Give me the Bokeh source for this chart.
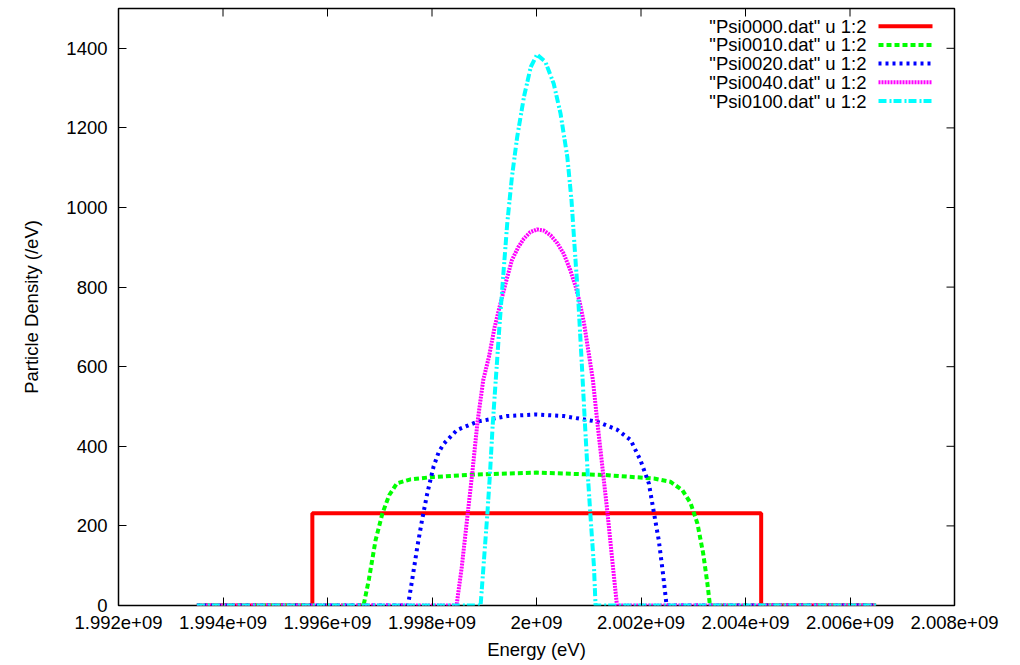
import numpy as np
from bokeh.plotting import figure
from bokeh.models import Range1d, FixedTicker, Label, Arrow
from bokeh.embed import file_html
from bokeh.resources import INLINE

# Energy is stored as the offset from the 2 GeV reference, in MeV
E0 = 2.0e9
MEV = 1.0e6

names = ['"Psi0000.dat" u 1:2', '"Psi0010.dat" u 1:2', '"Psi0020.dat" u 1:2',
         '"Psi0040.dat" u 1:2', '"Psi0100.dat" u 1:2']

psi0000_de = [-6.5, -4.29, -4.29, 4.30, 4.30, 6.5]
psi0000_rho = [0, 0, 232, 232, 0, 0]

psi0010_de = [-6.5, -3.31, -3.21, -3.08, -2.95, -2.82, -2.67, -2.41, -1.97, -1.20, 0.0,
              1.29, 2.25, 2.56, 2.79, 2.95, 3.08, 3.19, 3.27, 3.32, 6.5]
psi0010_rho = [0, 0, 64, 164, 231, 277, 307, 317, 323, 329, 334,
               328, 319, 311, 290, 257, 206, 131, 56, 0, 0]

psi0020_de = [-6.5, -2.46, -2.38, -2.28, -2.19, -2.09, -1.97, -1.87, -1.77, -1.52, -1.13,
              -0.56, 0.0, 0.52, 1.16, 1.54, 1.80, 1.99, 2.15, 2.25, 2.34, 2.42, 2.49, 6.5]
psi0020_rho = [0, 0, 64, 148, 215, 282, 349, 386, 407, 441, 462,
               476, 480, 476, 462, 442, 416, 365, 307, 231, 164, 81, 0, 0]

psi0040_de = [-6.5, -1.53, -1.43, -1.33, -1.23, -1.13, -1.02, -0.91, -0.80, -0.69, -0.58,
              -0.47, -0.35, -0.24, -0.12, 0.01, 0.14, 0.27, 0.40, 0.52, 0.64, 0.75,
              0.83, 0.91, 1.01, 1.08, 1.16, 1.26, 1.36, 1.45, 1.54, 6.5]
psi0040_rho = [0, 0, 97, 215, 332, 460, 566, 625, 700, 759, 815,
               868, 900, 922, 938, 945, 942, 930, 910, 884, 845, 801,
               760, 709, 625, 566, 466, 349, 231, 114, 0, 0]

psi0100_de = [-6.5, -1.07, -1.01, -0.94, -0.89, -0.84, -0.78, -0.71, -0.63, -0.56, -0.47,
              -0.37, -0.24, -0.11, 0.01, 0.17, 0.33, 0.46, 0.59, 0.67, 0.74, 0.80,
              0.87, 0.93, 0.98, 1.03, 1.10, 1.13, 6.5]
psi0100_rho = [0, 0, 106, 231, 332, 450, 566, 700, 840, 960, 1077,
               1177, 1278, 1353, 1384, 1366, 1311, 1236, 1127, 1018, 880, 767,
               600, 450, 332, 231, 97, 0, 0]

x_ticks = [1.992e9, 1.994e9, 1.996e9, 1.998e9, 2.0e9, 2.002e9, 2.004e9, 2.006e9, 2.008e9]
x_tick_labels = ["1.992e+09", "1.994e+09", "1.996e+09", "1.998e+09", "2e+09",
                 "2.002e+09", "2.004e+09", "2.006e+09", "2.008e+09"]
y_ticks = [0, 200, 400, 600, 800, 1000, 1200, 1400]

series_de = [psi0000_de, psi0010_de, psi0020_de, psi0040_de, psi0100_de]
series_rho = [psi0000_rho, psi0010_rho, psi0020_rho, psi0040_rho, psi0100_rho]
colors = ["#ff0000", "#00ff00", "#0000ff", "#ff00ff", "#00ffff"]
dashes = ["solid", "5 3", "3 4", "2 1", "8 3 2 2"]

X_MIN, X_MAX = 1.992e9, 2.008e9
Y_MIN, Y_MAX = 0, 1500

FONT = "Liberation Sans"
FS = "18.5px"
TICK_LEN = 8

p = figure(width=1020, height=665,
           x_range=Range1d(X_MIN, X_MAX), y_range=Range1d(Y_MIN, Y_MAX),
           output_backend="svg", toolbar_location=None,
           min_border_left=118, min_border_right=66,
           min_border_top=8, min_border_bottom=60)
p.background_fill_color = "white"
p.border_fill_color = "white"
p.grid.visible = False
p.outline_line_color = "black"
p.outline_line_width = 1.5
p.outline_line_alpha = 1.0

for de, rho, c, d in zip(series_de, series_rho, colors, dashes):
    energy = E0 + np.array(de) * MEV
    p.line(energy, rho, line_color=c, line_width=4, line_dash=d)

xax = p.below[0]
yax = p.left[0]
xax.ticker = FixedTicker(ticks=x_ticks)
xax.major_label_overrides = dict(zip(x_ticks, x_tick_labels))
yax.ticker = FixedTicker(ticks=y_ticks)
xax.axis_label = "Energy (eV)"
yax.axis_label = "Particle Density (/eV)"
for ax in (xax, yax):
    ax.axis_line_color = None
    ax.major_tick_in = TICK_LEN
    ax.major_tick_out = 0
    ax.major_tick_line_color = "black"
    ax.major_tick_line_width = 1
    ax.minor_tick_line_color = None
    ax.major_label_text_font = FONT
    ax.major_label_text_font_size = FS
    ax.major_label_text_color = "black"
    ax.axis_label_text_font = FONT
    ax.axis_label_text_font_size = FS
    ax.axis_label_text_font_style = "normal"
    ax.axis_label_text_color = "black"
xax.major_label_standoff = 10
xax.axis_label_standoff = 7
yax.major_label_standoff = 11
yax.axis_label_standoff = 21

# mirrored tick marks on the top and right edges
p.ray(x=x_ticks, y=[Y_MAX] * len(x_ticks), length=TICK_LEN, length_units="screen",
      angle=-np.pi / 2, line_color="black", line_width=1)
p.ray(x=[X_MAX] * len(y_ticks), y=y_ticks, length=TICK_LEN, length_units="screen",
      angle=np.pi, line_color="black", line_width=1)

# key in the top-right corner: right-aligned text followed by a line sample
key_text_right = 866
key_line_start = 878
key_line_end = 932
key_top = 25.7
key_step = 18.7
for i, (name, c, d) in enumerate(zip(names, colors, dashes)):
    yy = key_top + i * key_step
    p.add_layout(Label(x=key_text_right, y=yy, x_units="canvas", y_units="canvas",
                       text=name, text_align="right", text_baseline="middle",
                       text_font=FONT, text_font_size=FS, text_color="black"))
    p.add_layout(Arrow(end=None, start=None,
                       x_start=key_line_start, y_start=yy, x_end=key_line_end, y_end=yy,
                       start_units="canvas", end_units="canvas",
                       line_color=c, line_width=4, line_dash=d))

open("out.html", "w").write(file_html(p, INLINE))
